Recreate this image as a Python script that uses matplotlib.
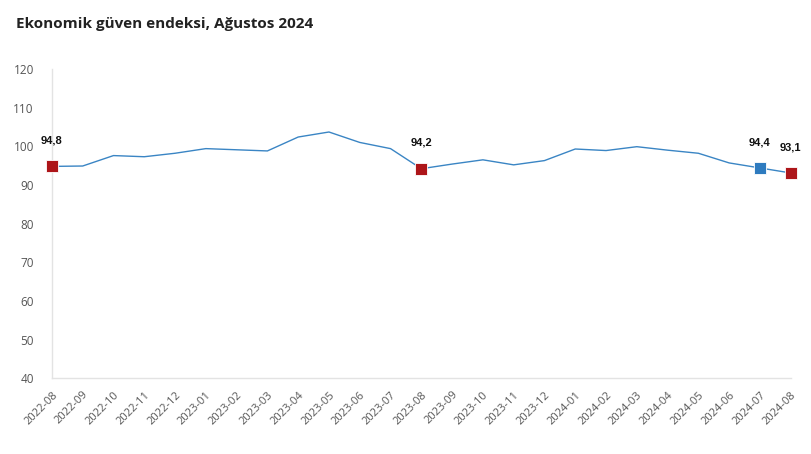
import matplotlib
matplotlib.use('Agg')
import matplotlib.pyplot as plt

months = ['2022-08', '2022-09', '2022-10', '2022-11', '2022-12', '2023-01',
          '2023-02', '2023-03', '2023-04', '2023-05', '2023-06', '2023-07',
          '2023-08', '2023-09', '2023-10', '2023-11', '2023-12', '2024-01',
          '2024-02', '2024-03', '2024-04', '2024-05', '2024-06', '2024-07',
          '2024-08']
values = [94.8, 94.9, 97.6, 97.3, 98.2, 99.4, 99.1, 98.8, 102.4, 103.7,
          101.0, 99.4, 94.2, 95.4, 96.5, 95.2, 96.3, 99.3, 98.9, 99.9,
          99.0, 98.2, 95.7, 94.4, 93.1]
# highlighted points: (index, label, colour)
highlights = [(0, '94,8', '#AD1519'), (12, '94,2', '#AD1519'),
              (23, '94,4', '#2E7BBF'), (24, '93,1', '#AD1519')]
yticks = [40, 50, 60, 70, 80, 90, 100, 110, 120]

fig = plt.figure(figsize=(8.11, 4.54), dpi=100)
ax = fig.add_axes([0.064, 0.167, 0.911, 0.681])

x = list(range(len(months)))
ax.plot(x, values, color='#3A85C4', linewidth=1.0, zorder=2)

for i, lab, col in highlights:
    ax.plot(x[i], values[i], marker='s', markersize=9, color=col,
            markeredgecolor='white', markeredgewidth=0.6, clip_on=False, zorder=3)
    ax.annotate(lab, (x[i], values[i]), xytext=(0, 15), textcoords='offset points',
                ha='center', va='bottom', fontsize=8, fontweight='bold',
                family='Liberation Sans', color='#111111')

ax.set_xlim(0, 24)
ax.set_ylim(40, 120)
ax.set_yticks(yticks)
ax.set_xticks(x)
ax.set_xticklabels(months, rotation=45, ha='right', rotation_mode='anchor')

for s in ['top', 'right']:
    ax.spines[s].set_visible(False)
for s in ['left', 'bottom']:
    ax.spines[s].set_color('#E3E3E3')
    ax.spines[s].set_linewidth(1.0)

ax.tick_params(axis='both', length=0, labelsize=8.5, labelcolor='#555555')
ax.tick_params(axis='y', pad=13)
ax.tick_params(axis='x', pad=8, labelsize=8)
for t in ax.get_xticklabels() + ax.get_yticklabels():
    t.set_family('Open Sans')

fig.text(0.02, 0.962, 'Ekonomik güven endeksi, Ağustos 2024', fontsize=11,
         fontweight='bold', family='Open Sans', color='#222222', va='top')

plt.savefig('out.png', dpi=100)
